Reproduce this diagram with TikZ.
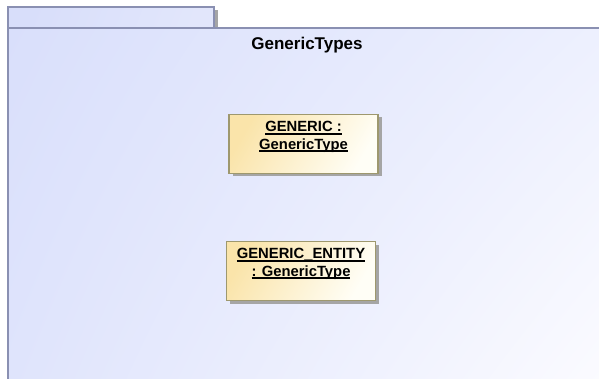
\documentclass[tikz,border=0pt]{standalone}
\usepackage{fontspec}
\setmainfont{Liberation Sans}
\usetikzlibrary{shadings}
\newcommand{\myul}[1]{\setbox0=\hbox{#1}\rlap{\rule[-2.7pt]{\wd0}{1.6pt}}\box0}
\definecolor{pkgUL}{RGB}{217,223,251}
\definecolor{pkgUR}{RGB}{237,240,254}
\definecolor{pkgLL}{RGB}{223,228,252}
\definecolor{pkgLR}{RGB}{251,251,255}
\definecolor{pkgA}{RGB}{216,222,250}
\definecolor{pkgLine}{RGB}{138,144,178}
\definecolor{objA}{RGB}{250,228,170}
\definecolor{objB}{RGB}{255,254,246}
\definecolor{objLine}{RGB}{158,152,110}
\definecolor{shadowC}{RGB}{165,165,165}
\tikzset{
  objbox/.style={draw=objLine, line width=1.3pt, minimum width=149pt, minimum height=59pt,
    inner sep=0pt, shading=axis, left color=objA, right color=objB, shading angle=60},
  objshadow/.style={fill=shadowC, draw=none, minimum width=149pt, minimum height=59pt, inner sep=0pt},
  objtext/.style={font=\bfseries\fontsize{14.8}{17.5}\selectfont, align=center, inner sep=0pt, text=black},
  titletext/.style={font=\bfseries\fontsize{17}{20}\selectfont, inner sep=0pt, text=black},
}
\begin{document}
\begin{tikzpicture}[x=1pt,y=-1pt]
\useasboundingbox (0,0) rectangle (599,379);
\clip (0,0) rectangle (599,379);
% package tab shadow
\fill[shadowC] (214,10) rectangle (218,28);
% package tab
\shade[shading=axis, left color=pkgA, right color=pkgA!75!white, shading angle=70] (8,7) rectangle (214,28);
\draw[pkgLine, line width=1.3pt] (8,28) -- (8,7) -- (214,7) -- (214,28);
% package body
\shade[upper left=pkgUL, upper right=pkgUR, lower left=pkgLL, lower right=pkgLR] (8,28) rectangle (602,382);
\draw[pkgLine, line width=1.3pt] (8,400) -- (8,28) -- (620,28);
\node[titletext] (title) at (307,45) {GenericTypes};
% objects
\node[objshadow] (s1) at (307,147) {};
\node[objbox] (g1) at (303.5,144) {};
\node[objtext, anchor=north] (g1t) at ([yshift=-7.5pt]g1.north) {\myul{GENERIC :}\\\myul{GenericType}};
\node[objshadow] (s2) at (304.5,274) {};
\node[objbox] (g2) at (301,271) {};
\node[objtext, anchor=north] (g2t) at ([yshift=-7.5pt]g2.north) {\myul{GENERIC\_ENTITY}\\\myul{: GenericType}};
\end{tikzpicture}
\end{document}
